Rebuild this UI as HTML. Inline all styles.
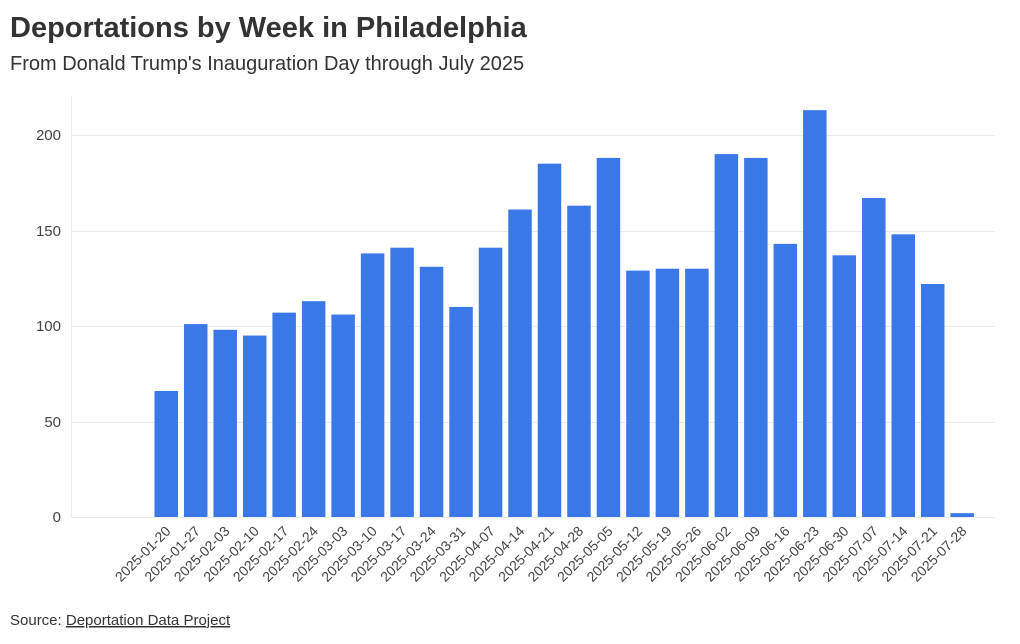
<!DOCTYPE html>
<html><head><meta charset="utf-8"><style>
body{margin:0;background:#fff;width:1020px;height:639px;overflow:hidden;font-family:"Liberation Sans",sans-serif}
</style></head><body>
<svg width="1020" height="639" xmlns="http://www.w3.org/2000/svg" font-family="Liberation Sans, sans-serif">
<text x="10" y="37" font-size="29" font-weight="bold" fill="#333">Deportations by Week in Philadelphia</text>
<text x="10" y="70" font-size="20" fill="#333">From Donald Trump's Inauguration Day through July 2025</text>
<g stroke="#ebebeb" stroke-width="1">
<line x1="71" x2="995" y1="135.5" y2="135.5"/>
<line x1="71" x2="995" y1="231.5" y2="231.5"/>
<line x1="71" x2="995" y1="326.5" y2="326.5"/>
<line x1="71" x2="995" y1="422.5" y2="422.5"/>
<line x1="71" x2="995" y1="517.5" y2="517.5"/>
<line x1="71.5" x2="71.5" y1="96" y2="517"/>
</g>
<g font-size="15" fill="#444" text-anchor="end">
<text x="61" y="140">200</text><text x="61" y="236">150</text><text x="61" y="331">100</text><text x="61" y="427">50</text><text x="61" y="522">0</text>
</g>
<g id="bars" fill="#3b78e7"></g>
<g id="labels" font-size="14" fill="#444" text-anchor="end"></g>
<text x="10" y="625" font-size="15" fill="#333">Source: <tspan text-decoration="underline">Deportation Data Project</tspan></text>
</svg>
<script>
var v=[66,101,98,95,107,113,106,138,141,131,110,141,161,185,163,188,129,130,130,190,188,143,213,137,167,148,122,2];
var d=new Date(Date.UTC(2025,0,20));var b=document.getElementById('bars'),l=document.getElementById('labels');var ns="http://www.w3.org/2000/svg";
for(var i=0;i<v.length;i++){var x=154.5+29.48*i,h=v[i]*1.91;var r=document.createElementNS(ns,'rect');r.setAttribute('x',x);r.setAttribute('width',23.5);r.setAttribute('y',517-h);r.setAttribute('height',h);b.appendChild(r);
var dt=new Date(d.getTime()+i*7*864e5);var s=dt.toISOString().slice(0,10);var t=document.createElementNS(ns,'text');var cx=x+17,cy=532;t.setAttribute('x',cx);t.setAttribute('y',cy);t.setAttribute('transform','rotate(-45 '+cx+' '+cy+')');t.textContent=s;l.appendChild(t);}
</script>
</body></html>
